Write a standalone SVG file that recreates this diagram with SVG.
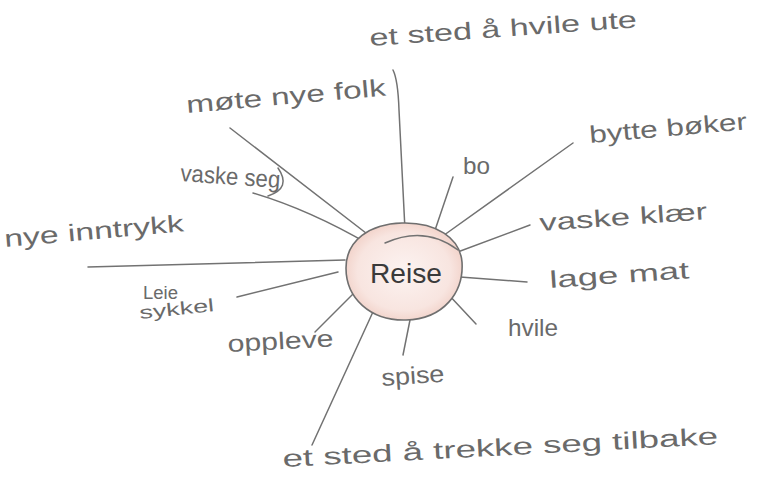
<svg xmlns="http://www.w3.org/2000/svg" width="770" height="481" viewBox="0 0 770 481">
<style>
.lbl{font-family:"Liberation Sans","DejaVu Sans",sans-serif;font-size:24px;fill:#6a6a6a;}
.small{font-size:18px;}
.con{fill:none;stroke:#727272;stroke-width:1.5;stroke-linecap:round;}
</style>
<defs>
<radialGradient id="pink" cx="0.5" cy="0.5" r="0.5">
<stop offset="0" stop-color="#fcf3f1"/>
<stop offset="0.8" stop-color="#f8e5e0"/>
<stop offset="1" stop-color="#f3d6ce"/>
</radialGradient>
</defs>
<rect width="770" height="481" fill="#ffffff"/>
<g id="connectors">
<path class="con" d="M393 70 Q398 80 399 110 L405 230"/>
<path class="con" d="M230 128 L375 240"/>
<path class="con" d="M253 193 Q310 210 370 245"/>
<path class="con" d="M278 168 Q292 188 268 196"/>
<path class="con" d="M88 267 L345 260"/>
<path class="con" d="M237 297 L338 272"/>
<path class="con" d="M315 332 L355 292"/>
<path class="con" d="M403 355 L412 310"/>
<path class="con" d="M312 445 L383 290"/>
<path class="con" d="M453 177 L430 245"/>
<path class="con" d="M573 143 L440 238"/>
<path class="con" d="M530 225 L455 253"/>
<path class="con" d="M460 277 L527 282"/>
<path class="con" d="M447 293 L476 324"/>
</g>
<g id="center">
<path d="M346 268 C346 240 370 224 402 223 C436 222 460 238 462 262 C464 292 444 319 406 320 C370 321 346 298 346 268 Z" fill="url(#pink)" stroke="#6f6f6f" stroke-width="1.6"/>
<path class="con" d="M385 243 Q425 225 458 250"/>
<text class="lbl" x="370" y="283" style="fill:#3a3a3a;font-size:28px" textLength="72" lengthAdjust="spacingAndGlyphs">Reise</text>
</g>
<g id="n-hvile-ute"><text class="lbl" x="370" y="46" textLength="268" lengthAdjust="spacingAndGlyphs" transform="rotate(-4 370 46)">et sted å hvile ute</text></g>
<g id="n-mote"><text class="lbl" x="187" y="113" textLength="200" lengthAdjust="spacingAndGlyphs" transform="rotate(-5 187 113)">møte nye folk</text></g>
<g id="n-vaske-seg"><text class="lbl" x="180" y="181" textLength="100" lengthAdjust="spacingAndGlyphs" transform="rotate(4 180 181)">vaske seg</text></g>
<g id="n-inntrykk"><text class="lbl" x="5" y="247" textLength="180" lengthAdjust="spacingAndGlyphs" transform="rotate(-5 5 247)">nye inntrykk</text></g>
<g id="n-leie"><text class="lbl small" x="143" y="299" textLength="35" lengthAdjust="spacingAndGlyphs">Leie</text><text class="lbl small" x="140" y="319" textLength="75" lengthAdjust="spacingAndGlyphs" transform="rotate(-6 140 319)">sykkel</text></g>
<g id="n-oppleve"><text class="lbl" x="228" y="352" textLength="106" lengthAdjust="spacingAndGlyphs" transform="rotate(-3 228 352)">oppleve</text></g>
<g id="n-spise"><text class="lbl" x="382" y="386" textLength="63" lengthAdjust="spacingAndGlyphs" transform="rotate(-4 382 386)">spise</text></g>
<g id="n-trekke"><text class="lbl" x="283" y="467" textLength="436" lengthAdjust="spacingAndGlyphs" transform="rotate(-3 283 467)">et sted å trekke seg tilbake</text></g>
<g id="n-bo"><text class="lbl" x="463" y="174" textLength="27" lengthAdjust="spacingAndGlyphs">bo</text></g>
<g id="n-bytte"><text class="lbl" x="590" y="143" textLength="158" lengthAdjust="spacingAndGlyphs" transform="rotate(-5 590 143)">bytte bøker</text></g>
<g id="n-vaske-klaer"><text class="lbl" x="540" y="231" textLength="168" lengthAdjust="spacingAndGlyphs" transform="rotate(-4 540 231)">vaske klær</text></g>
<g id="n-lage"><text class="lbl" x="550" y="288" textLength="140" lengthAdjust="spacingAndGlyphs" transform="rotate(-4 550 288)">lage mat</text></g>
<g id="n-hvile"><text class="lbl" x="508" y="336" textLength="50" lengthAdjust="spacingAndGlyphs">hvile</text></g>
</svg>
